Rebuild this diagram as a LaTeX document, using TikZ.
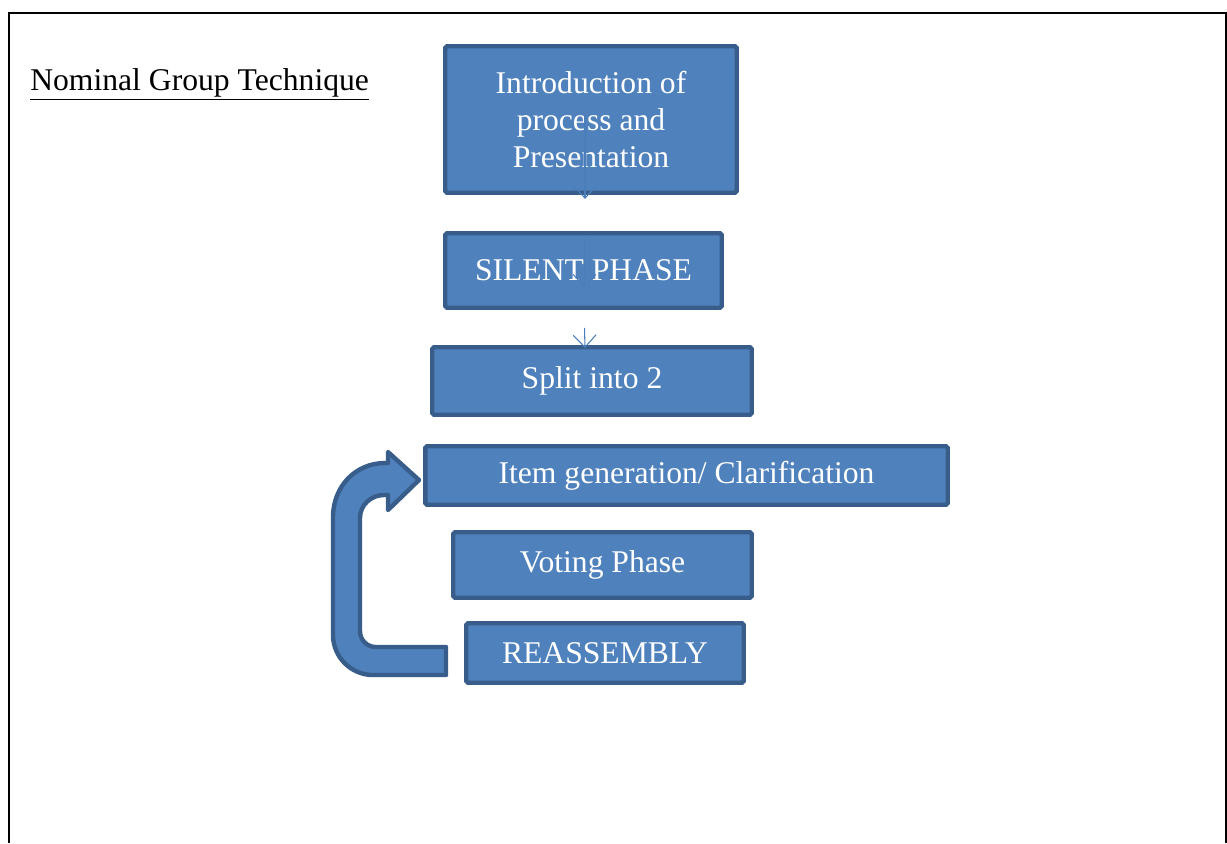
\documentclass[tikz,border=0pt]{standalone}
\usepackage{fontspec}
\setmainfont{Liberation Serif}
\usetikzlibrary{positioning,arrows.meta}
\usetikzlibrary{calc}
\tikzstyle{box} = [draw=boxedge, fill=boxfill, line width=2.5pt, rounded corners=1pt, text=white, font=\fontsize{18}{21}\selectfont, align=center, inner sep=0pt]
\tikzstyle{flow} = [draw=flowblue, line width=0.6pt, -{Straight Barb[length=7pt,width=13pt]}]

\begin{document}
\begin{tikzpicture}[x=0.02cm,y=-0.02cm]
\definecolor{boxfill}{HTML}{4F81BD}
\definecolor{boxedge}{HTML}{385D8A}
\definecolor{flowblue}{HTML}{4A7EBB}

\useasboundingbox (0,0) rectangle (1227,843);

% page frame, open at the bottom
\draw[line width=1.2pt] (9,843) -- (9,13) -- (1226,13) -- (1226,843);

\node[anchor=base west, inner sep=0pt, font=\fontsize{18}{21}\selectfont] (title) at (30,90) {\underline{Nominal Group Technique}};

\node[box, minimum width=5.83cm, minimum height=2.93cm] (intro) at (591,119.5) {Introduction of\\process and\\Presentation};
\node[box, minimum width=5.53cm, minimum height=1.49cm] (silent) at (583.5,270.5) {SILENT PHASE};
\node[box, minimum width=6.39cm, minimum height=1.35cm] (split) at (592,381) {Split into 2};
\node[box, minimum width=10.45cm, minimum height=1.17cm] (item) at (686.5,475.5) {Item generation/ Clarification};
\node[box, minimum width=5.97cm, minimum height=1.31cm] (voting) at (602.5,565) {Voting Phase};
\node[box, minimum width=5.55cm, minimum height=1.19cm] (reass) at (605,653) {REASSEMBLY};

\draw[flow] ($(intro.center)+(-6,-5)$) -- ($(intro.south)+(-6,4)$);
\draw[flow] ($(silent.north)+(1,8)$) -- ($(silent.center)+(1,17)$);
\draw[flow] ($(silent.south)+(1,18)$) -- ($(split.north)+(-7,3)$);

% loop back from reassembly to item generation
\draw[draw=boxedge, fill=boxfill, line width=2.5pt, line join=round]
  (446,675) -- (373,675) .. controls (351,675) and (333,657) .. (333,635)
  -- (333,517) .. controls (333,487) and (355,463) .. (385,463)
  -- (388,463) -- (388,452) -- (419,480) -- (388,510) -- (388,495)
  -- (384,495) .. controls (371,495) and (360,505) .. (360,518)
  -- (360,631) .. controls (360,640) and (367,647) .. (376,647)
  -- (446,647) -- cycle;

\end{tikzpicture}
\end{document}
